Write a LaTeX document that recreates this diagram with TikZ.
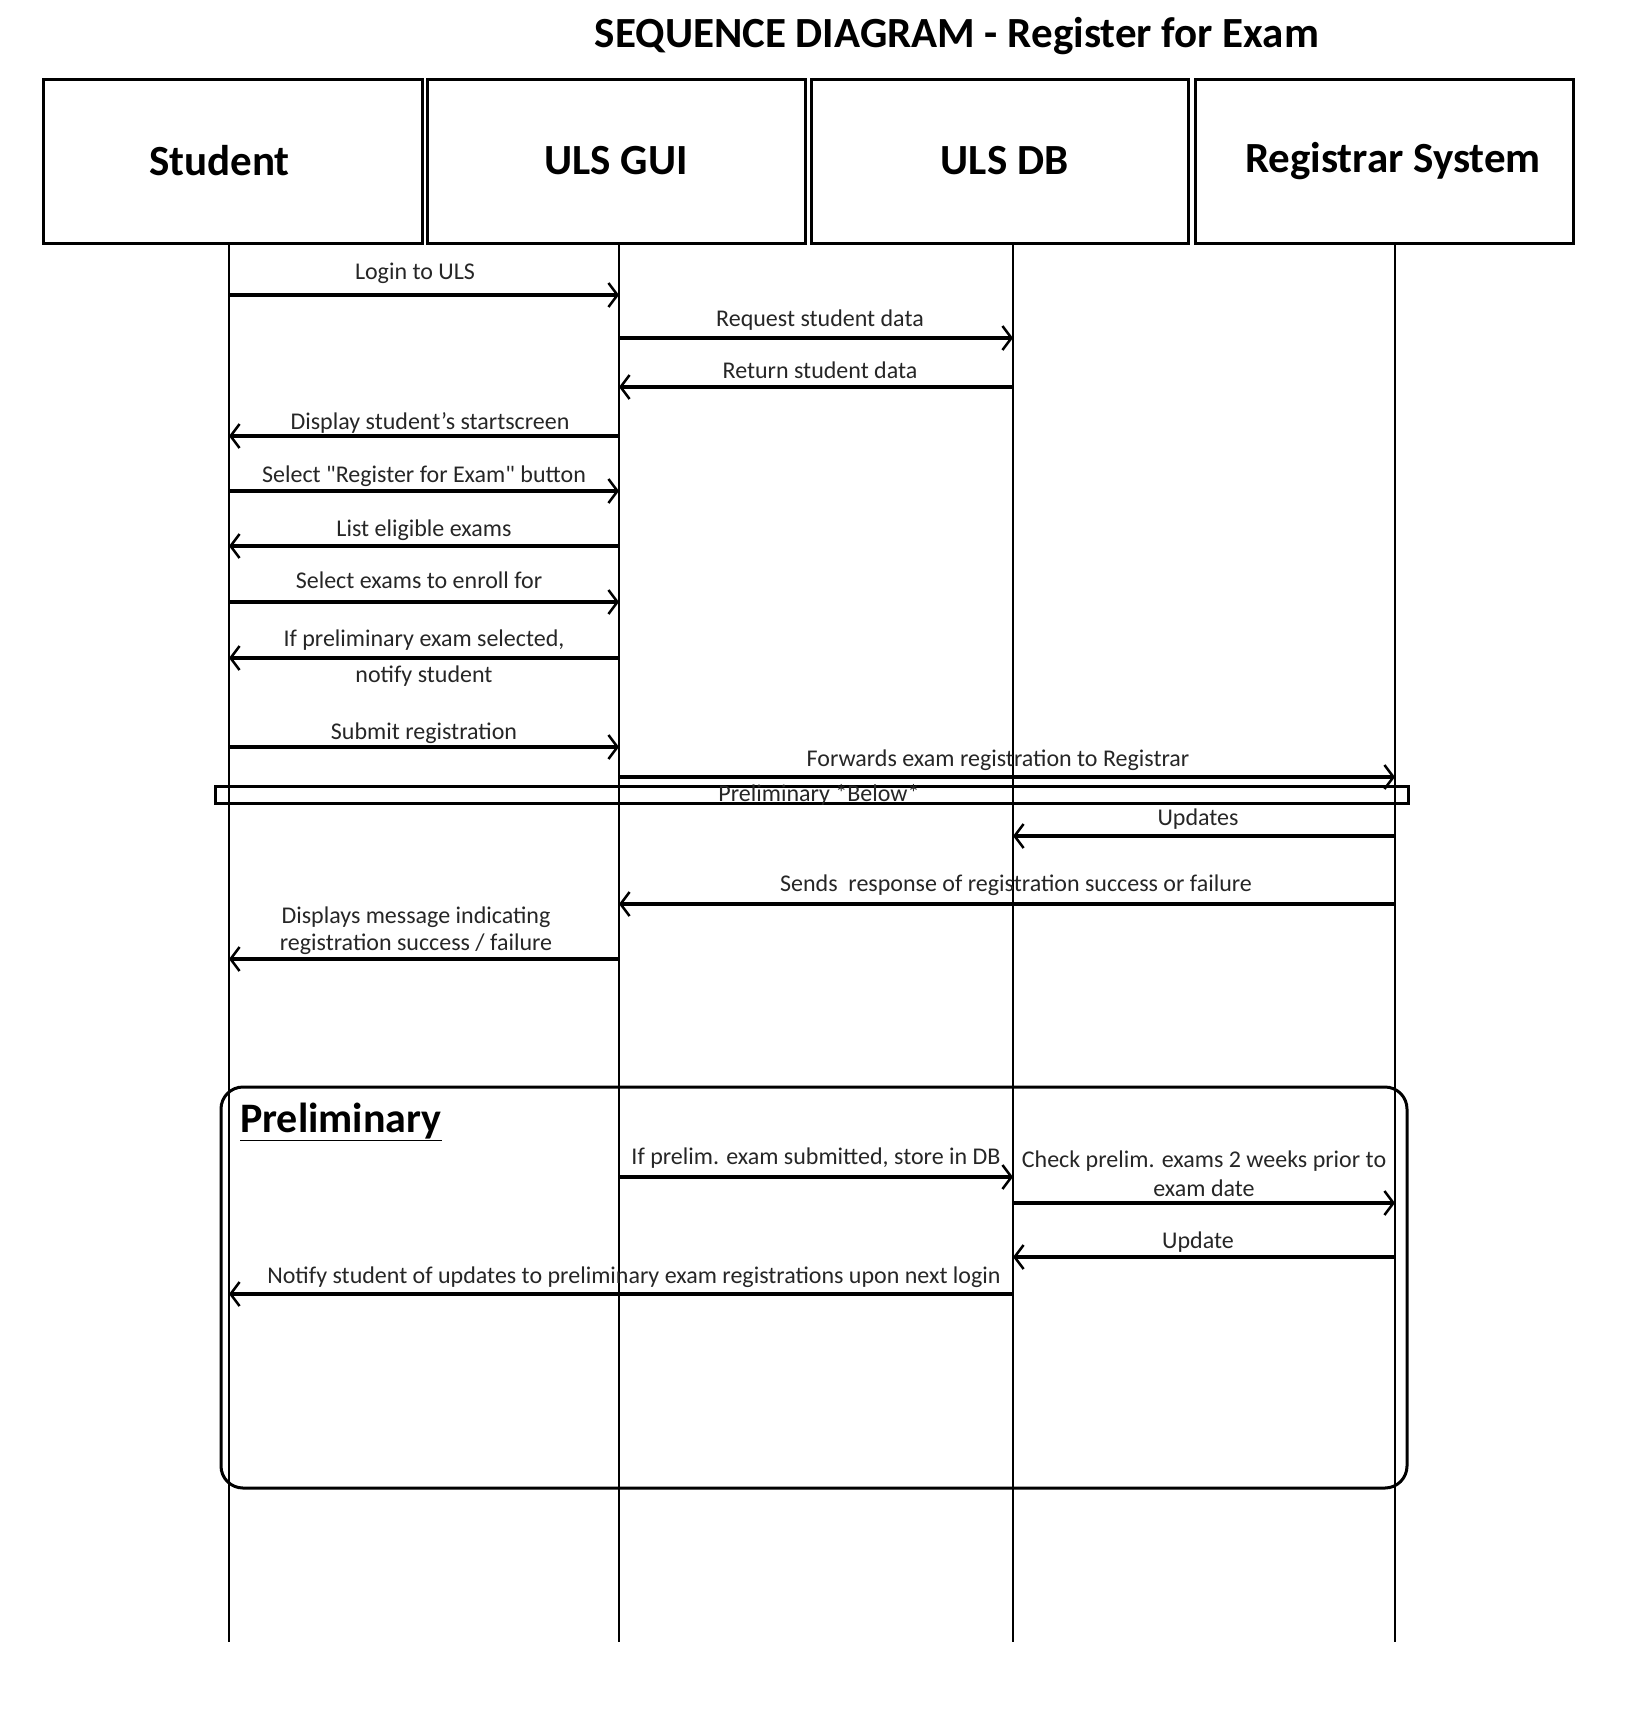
\documentclass[tikz,border=0pt]{standalone}
\usepackage{fontspec}
\setmainfont{Carlito}
\usetikzlibrary{arrows.meta}
\begin{document}
\begin{tikzpicture}[x=1pt,y=-1pt,
  hdr/.style={draw, line width=3pt, minimum height=164pt, inner sep=0pt,
    font=\fontsize{43}{46}\selectfont\bfseries},
  life/.style={line width=2.5pt},
  msg/.style={line width=3.2pt, -{Straight Barb[length=9pt,width=24pt,line width=2.5pt]}},
  lbl/.style={font=\fontsize{24}{28}\selectfont, text=black!85, inner sep=1pt,
    text height=17pt, text depth=5pt},
  frame/.style={line width=3pt, rounded corners=22pt}
]
\useasboundingbox (0,0) rectangle (1630,1713);

% title
\node[font=\fontsize{43}{46}\selectfont\bfseries] (title) at (957,36) {SEQUENCE DIAGRAM - Register for Exam};

% headers
\node[hdr, minimum width=379pt] (hs) at (232.5,161) {\hspace*{-26pt}Student};
\node[hdr, minimum width=378pt] (hg) at (616,161) {ULS GUI};
\node[hdr, minimum width=377pt] (hd) at (999.5,161) {\hspace*{10pt}ULS DB};
\node[hdr, minimum width=378pt] (hr) at (1384,161) {\hspace*{18pt}Registrar System};

% lifelines
\coordinate (sT) at (229,243);  \coordinate (sB) at (229,1642);
\coordinate (gT) at (619,243);  \coordinate (gB) at (619,1642);
\coordinate (dT) at (1013,243); \coordinate (dB) at (1013,1642);
\coordinate (rT) at (1395,243); \coordinate (rB) at (1395,1642);
\draw[life] (sT) -- (sB);
\draw[life] (gT) -- (gB);
\draw[life] (dT) -- (dB);
\draw[life] (rT) -- (rB);

% messages
\draw[msg] (sT |- 0,295) -- node[lbl, above=8pt, xshift=-9pt] (m1) {Login to ULS} (gT |- 0,295);
\draw[msg] (gT |- 0,338) -- node[lbl, above=4pt, xshift=4pt] (m2) {Request student data} (dT |- 0,338);
\draw[msg] (dT |- 0,387) -- node[lbl, above=1pt, xshift=4pt] (m3) {Return student data} (gT |- 0,387);
\draw[msg] (gT |- 0,436) -- node[lbl, above=-1pt, xshift=6pt] (m4) {Display student's startscreen} (sT |- 0,436);
\draw[msg] (sT |- 0,491) -- node[lbl, above=1pt] (m5) {Select \textquotedbl Register for Exam\textquotedbl\ button} (gT |- 0,491);
\draw[msg] (gT |- 0,546) -- node[lbl, above=2pt] (m6) {List eligible exams} (sT |- 0,546);
\draw[msg] (sT |- 0,602) -- node[lbl, above=6pt, xshift=-5pt] (m7) {Select exams to enroll for} (gT |- 0,602);
\draw[msg] (gT |- 0,658) -- node[lbl, above=4pt] (m8) {If preliminary exam selected,}
  node[lbl, below=5pt] (m8b) {notify student} (sT |- 0,658);
\draw[msg] (sT |- 0,747) -- node[lbl, above=0pt] (m9) {Submit registration} (gT |- 0,747);
\draw[msg] (gT |- 0,777) -- node[lbl, above=3pt, xshift=-9pt] (m10) {Forwards exam registration to Registrar} (rT |- 0,777);

% preliminary bar
\node[draw, line width=3pt, minimum width=1193pt, minimum height=17pt, inner sep=0pt] (bar) at (811.5,794.5) {};
\node[lbl] (barlbl) at (819,795) {Preliminary *Below*};

\draw[msg] (rT |- 0,836) -- node[lbl, above=3pt, xshift=-6pt] (m11) {Updates} (dT |- 0,836);
\draw[msg] (rT |- 0,904) -- node[lbl, above=5pt, xshift=9pt] (m12) {Sends\ \ response of registration success or failure} (gT |- 0,904);
\draw[msg] (gT |- 0,959) -- node[lbl, above=28pt, xshift=-8pt] (m13) {Displays message indicating}
  node[lbl, above=1pt, xshift=-8pt] (m13b) {registration success / failure} (sT |- 0,959);

% preliminary frame
\draw[frame] (221,1087) rectangle (1407,1488);
\node[anchor=west, font=\fontsize{42}{46}\selectfont\bfseries, inner sep=0pt] (ftitle) at (240,1122) {\underline{Preliminary}};

\draw[msg] (gT |- 0,1177) -- node[lbl, above=5pt] (m14) {If prelim. exam submitted, store in DB} (dT |- 0,1177);
\draw[msg] (dT |- 0,1203) -- node[lbl, above=28pt] (m15) {Check prelim. exams 2 weeks prior to}
  node[lbl, above=-1pt] (m15b) {exam date} (rT |- 0,1203);
\draw[msg] (rT |- 0,1257) -- node[lbl, above=1pt, xshift=-6pt] (m16) {Update} (dT |- 0,1257);
\draw[msg] (dT |- 0,1294) -- node[lbl, above=3pt, xshift=13pt] (m17) {Notify student of updates to preliminary exam registrations upon next login} (sT |- 0,1294);
\end{tikzpicture}
\end{document}
